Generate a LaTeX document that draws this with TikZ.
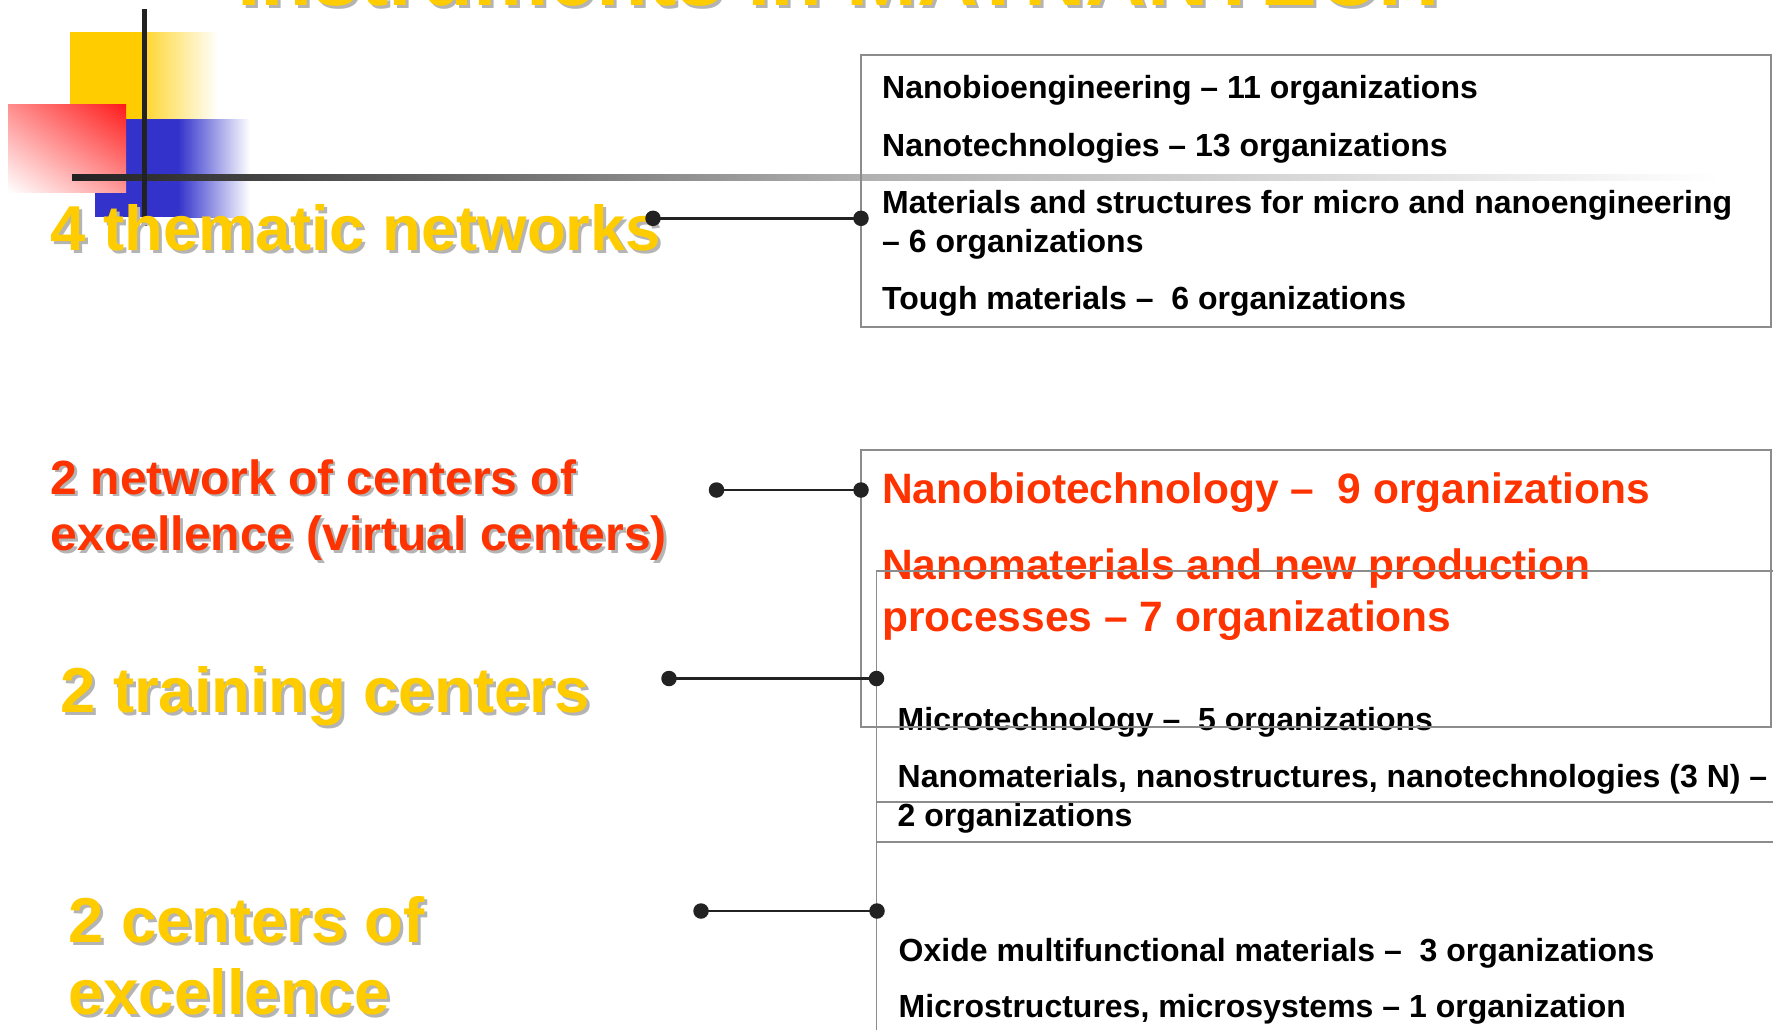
\documentclass[tikz,border=0pt]{standalone}
\usepackage{fontspec}
\setmainfont{Liberation Sans}
\usetikzlibrary{shapes.geometric,shadings}
\definecolor{ppyellow}{HTML}{FFCC00}
\definecolor{ppred}{HTML}{FF3300}
\definecolor{ppblue}{HTML}{3333CC}
\definecolor{ppsq}{HTML}{FF1A1A}
\definecolor{ppshadow}{HTML}{B4B4B4}
\definecolor{ppline}{HTML}{222222}
\definecolor{ppbox}{HTML}{8C8C8C}
\definecolor{ppmid}{HTML}{B0B0B0}
\begin{document}
\begin{tikzpicture}[x=1pt,y=-1pt,
  lbl/.style={anchor=base west,inner sep=0pt},
  bigyellow/.style={lbl,font=\bfseries\fontsize{63.5}{76}\selectfont,text=ppyellow},
  bigred/.style={lbl,font=\bfseries\fontsize{48}{58}\selectfont,text=ppred},
  titletext/.style={lbl,font=\bfseries\fontsize{85}{100}\selectfont,text=ppyellow},
  shadowof/.style={text=ppshadow},
  boxtext/.style={lbl,font=\bfseries\fontsize{32}{38}\selectfont,text=black},
  redtext/.style={lbl,font=\bfseries\fontsize{42.5}{52}\selectfont,text=ppred},
  boxline/.style={draw=ppbox,line width=1.6pt},
  dot/.style={circle,fill=ppline,inner sep=0pt,minimum size=15.5pt},
  conn/.style={draw=ppline,line width=2.4pt}]
\useasboundingbox (0,0) rectangle (1773,1029);
\clip (0,0) rectangle (1773,1029);
\fill[white] (0,0) rectangle (1773,1029);

% decoration
\fill[ppyellow] (70,32) rectangle (145,119);
\shade[left color=ppyellow!80, right color=white] (145,32) rectangle (218,119);
\fill[ppblue] (95,119) rectangle (178,217);
\shade[left color=ppblue, right color=white] (178,119) rectangle (250,217);
\shade[upper right=ppsq, upper left=ppsq!50, lower right=ppsq!45, lower left=white] (8,104) rectangle (126,192);
\shade[left color=ppline, right color=ppmid] (72,174) rectangle (860,180);
\shade[left color=ppmid, right color=white] (860,174) rectangle (1720,180);
\draw[ppline,line width=5pt] (144,9) -- (144,226);

% title (cut off at the top, as in the reference)
\node[titletext,shadowof] (titleS) at (240,8) {Instruments in MATNANTECH};
\node[titletext] (title) at (237,5) {Instruments in MATNANTECH};

% left labels
\node[bigyellow,shadowof] (l1S) at (53.5,253.5) {4 thematic networks};
\node[bigyellow] (l1) at (50.5,250.5) {4 thematic networks};
\node[bigred,shadowof] (l2aS) at (53,496.8) {2 network of centers of};
\node[bigred] (l2a) at (50.5,494) {2 network of centers of};
\node[bigred,shadowof] (l2bS) at (53,553.1) {excellence (virtual centers)};
\node[bigred] (l2b) at (50.5,550.3) {excellence (virtual centers)};
\node[bigyellow,shadowof] (l3S) at (63,715.3) {2 training centers};
\node[bigyellow] (l3) at (60,712.3) {2 training centers};
\node[bigyellow,shadowof] (l4aS) at (71,945.5) {2 centers of};
\node[bigyellow] (l4a) at (68,942.5) {2 centers of};
\node[bigyellow,shadowof] (l4bS) at (71,1017.5) {excellence};
\node[bigyellow] (l4b) at (68,1014.5) {excellence};

% box texts
\node[boxtext] (t11) at (882,98.5) {Nanobioengineering – 11 organizations};
\node[boxtext] (t12) at (882,156) {Nanotechnologies – 13 organizations};
\node[boxtext] (t13a) at (882,213) {Materials and structures for micro and nanoengineering};
\node[boxtext] (t13b) at (882,252) {– 6 organizations};
\node[boxtext] (t14) at (882,309.2) {Tough materials –\ \ 6 organizations};

\node[redtext] (t21) at (882,503.3) {Nanobiotechnology –\ \ 9 organizations};
\node[redtext] (t22a) at (882,579.3) {Nanomaterials and new production};
\node[redtext] (t22b) at (882,631.4) {processes – 7 organizations};

\node[boxtext] (t31) at (897.5,730.4) {Microtechnology –\ \ 5 organizations};
\node[boxtext] (t32a) at (897.5,787.3) {Nanomaterials, nanostructures, nanotechnologies (3 N) –};
\node[boxtext] (t32b) at (897.5,826.4) {2 organizations};

\node[boxtext] (t41) at (898.5,961.5) {Oxide multifunctional materials –\ \ 3 organizations};
\node[boxtext] (t42) at (898.5,1017) {Microstructures, microsystems – 1 organization};

% boxes
\draw[boxline] (861,55) rectangle (1771,327);
\draw[boxline] (861,450) rectangle (1771,727);
\draw[boxline] (1790,571) -- (876.5,571) -- (876.5,1040);
\draw[boxline] (876.5,801.7) -- (1790,801.7);
\draw[boxline] (876.5,841.7) -- (1790,841.7);

% connectors
\node[dot] (c1a) at (653,218.3) {};
\node[dot] (c1b) at (861,218.3) {};
\draw[conn] (c1a.center) -- (c1b.center);
\node[dot] (c2a) at (716.5,490) {};
\node[dot] (c2b) at (861,490) {};
\draw[conn] (c2a.center) -- (c2b.center);
\node[dot] (c3a) at (669,678.5) {};
\node[dot] (c3b) at (876.5,678.5) {};
\draw[conn] (c3a.center) -- (c3b.center);
\node[dot] (c4a) at (701,911) {};
\node[dot] (c4b) at (877,911) {};
\draw[conn] (c4a.center) -- (c4b.center);
\end{tikzpicture}
\end{document}
